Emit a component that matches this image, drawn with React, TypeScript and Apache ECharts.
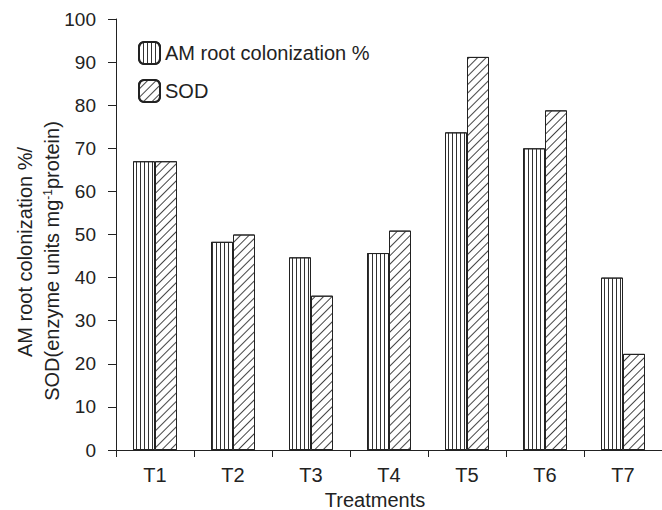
import React, { useEffect, useRef } from "react";
import * as echarts from "echarts";

const categories = ["T1", "T2", "T3", "T4", "T5", "T6", "T7"];
const amValues = [67, 48.3, 44.7, 45.7, 73.7, 70, 40];
const sodValues = [67, 50, 35.8, 50.9, 91.2, 78.8, 22.3];
const seriesNames = ["AM root colonization %", "SOD"];

const FONT = "'Liberation Sans', Arial, Helvetica, sans-serif";
const INK = "#222";

export default function App() {
  const ref = useRef<HTMLDivElement>(null);
  useEffect(() => {
    if (!ref.current) return;
    const chart = echarts.init(ref.current, undefined, { renderer: "svg" });
    chart.setOption({
      animation: false,
      backgroundColor: "#fff",
      textStyle: { fontFamily: FONT, color: INK },
      grid: { left: 116, right: 0, top: 19, bottom: 60, containLabel: false, outerBoundsMode: "none" },
      legend: {
        orient: "vertical",
        left: 138,
        top: 41,
        padding: 0,
        itemWidth: 21,
        itemHeight: 22,
        itemGap: 14,
        textStyle: { fontSize: 20, color: INK, fontFamily: FONT },
        data: seriesNames,
      },
      xAxis: {
        type: "category",
        data: categories,
        boundaryGap: true,
        axisLine: { lineStyle: { color: INK, width: 1 } },
        axisTick: { show: true, length: 7, lineStyle: { color: INK } },
        axisLabel: { fontSize: 20, color: INK, margin: 15, interval: 0, fontFamily: FONT },
        name: "Treatments",
        nameLocation: "middle",
        nameGap: 36,
        nameTextStyle: { fontSize: 20, color: INK, fontFamily: FONT, padding: [0, 28, 0, 0] },
      },
      yAxis: {
        type: "value",
        min: 0,
        max: 100,
        interval: 10,
        axisLine: { show: true, lineStyle: { color: INK, width: 1 } },
        axisTick: { show: true, length: 8, lineStyle: { color: INK } },
        axisLabel: { fontSize: 19, color: INK, margin: 20, fontFamily: FONT },
        splitLine: { show: false },
      },
      graphic: [
        {
          type: "text",
          x: 25,
          y: 252,
          rotation: Math.PI / 2,
          style: {
            text: "AM root colonization %/",
            fontSize: 20,
            fontFamily: FONT,
            fill: INK,
            align: "center",
            verticalAlign: "middle",
          },
        },
        {
          type: "text",
          x: 52,
          y: 261,
          rotation: Math.PI / 2,
          style: {
            text: "{a|SOD(enzyme units mg}{s|-1}{a|protein)}",
            fontSize: 20,
            fontFamily: FONT,
            fill: INK,
            align: "center",
            verticalAlign: "middle",
            rich: {
              a: { fontSize: 20, fontFamily: FONT, fill: INK },
              s: { fontSize: 12, fontFamily: FONT, fill: INK, verticalAlign: "top", padding: [0, 0, 8, 0] },
            },
          },
        },
      ],
      series: [
        {
          name: seriesNames[0],
          type: "bar",
          data: amValues,
          barWidth: 22,
          barGap: "0%",
          itemStyle: {
            color: "#fff",
            borderColor: INK,
            borderWidth: 1,
            decal: {
              symbol: "rect",
              symbolSize: 1,
              color: "#333",
              dashArrayX: [1, 3],
              dashArrayY: [10, 0],
              rotation: 0,
            },
          },
        },
        {
          name: seriesNames[1],
          type: "bar",
          data: sodValues,
          barWidth: 22,
          barGap: "0%",
          itemStyle: {
            color: "#fff",
            borderColor: INK,
            borderWidth: 1,
            decal: {
              symbol: "rect",
              symbolSize: 1,
              color: "#444",
              dashArrayX: [10, 0],
              dashArrayY: [1, 5],
              rotation: -Math.PI / 4,
            },
          },
        },
      ],
    });
    return () => chart.dispose();
  }, []);
  return (
    <div
      ref={ref}
      style={{ position: "fixed", left: 0, top: 0, width: 662, height: 510, background: "#fff" }}
    />
  );
}
